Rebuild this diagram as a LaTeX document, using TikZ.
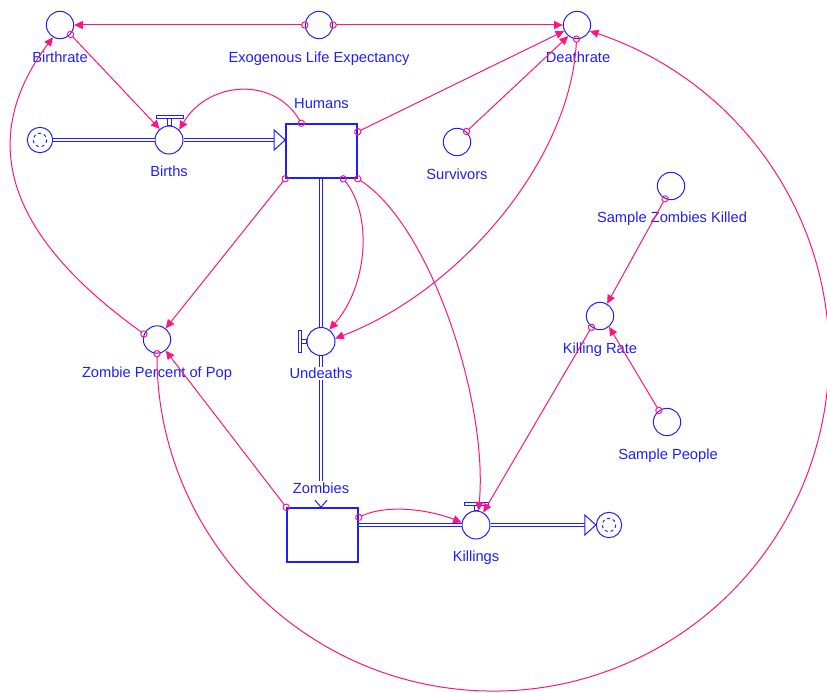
\documentclass[tikz,border=0pt]{standalone}
\usepackage{fontspec}
\setmainfont{Liberation Sans}
\usetikzlibrary{arrows.meta,calc}

\definecolor{simblue}{RGB}{30,30,255}
\definecolor{simpink}{RGB}{255,20,130}

\tikzset{every picture/.style={line width=0.75pt}}
\tikzset{
  auxvar/.style={circle, draw=simblue, minimum size=20.5pt, inner sep=0pt},
  valve/.style={circle, draw=simblue, minimum size=21pt, inner sep=0pt},
  stock/.style={rectangle, draw=simblue, line width=1.2pt, minimum width=53.25pt, minimum height=40.5pt, inner sep=0pt},
  cloud/.style={circle, draw=simblue, minimum size=19pt, inner sep=0pt},
  lbl/.style={text=simblue, font=\fontsize{11}{13}\selectfont, inner sep=0.75pt, text height=7.9pt, text depth=0pt},
  pipe/.style={draw=simblue, double=white, double distance=1.8pt},
  pipetip/.style={draw=simblue, fill=white, line join=miter},
  link/.style={draw=simpink, {Circle[open,length=5.5pt,width=5.5pt]}-{Triangle[length=6.5pt,width=6pt]}, shorten <=-2.75pt},
}

\begin{document}
\begin{tikzpicture}[x=0.75pt,y=0.75pt,yscale=-1,xscale=1]
\useasboundingbox (0,0) rectangle (827,692);

%Auxiliaries
\node[auxvar] (br) at (60,25) {};
\node[auxvar] (ele) at (319,25) {};
\node[auxvar] (dr) at (577,25) {};
\node[auxvar] (surv) at (457,142) {};
\node[auxvar] (szk) at (671,186) {};
\node[auxvar] (kr) at (600,316) {};
\node[auxvar] (sp) at (667,422) {};
\node[auxvar] (zpp) at (157,339.5) {};

%Stocks
\node[stock] (humans) at (321.5,151) {};
\node[stock] (zombies) at (322.5,535) {};

%Valves and clouds
\node[valve] (births) at (169,140) {};
\node[valve] (undeaths) at (321,341.5) {};
\node[valve] (killings) at (476,525) {};
\node[cloud] (srcL) at (40,140) {};
\node[cloud] (sinkR) at (609,525) {};
\draw[simblue, dash pattern=on 2.2pt off 2.2pt] (srcL) circle[radius=5pt];
\draw[simblue, dash pattern=on 2.2pt off 2.2pt] (sinkR) circle[radius=5pt];

%Valve bars
\draw[simblue] ($(births.north)+(-13,-10)$) rectangle ($(births.north)+(14,-7)$);
\draw[simblue] ($(births.north)+(-2,-7)$) rectangle ($(births.north)+(2,0)$);
\draw[simblue] ($(undeaths.west)+(-8,-11)$) rectangle ($(undeaths.west)+(-5,11)$);
\draw[simblue] ($(undeaths.west)+(-5,-2)$) rectangle ($(undeaths.west)+(0,2)$);
\draw[simblue] ($(killings.north)+(-12,-8)$) rectangle ($(killings.north)+(12,-5)$);
\draw[simblue] ($(killings.north)+(-2,-5)$) rectangle ($(killings.north)+(2,0)$);

% Text Node
\node[lbl] (brL) at (60,57) {Birthrate};
\node[lbl] (eleL) at (319,57) {Exogenous Life Expectancy};
\node[lbl] (drL) at (578,57) {Deathrate};
\node[lbl] (birthsL) at (169,171) {Births};
\node[lbl] (humansL) at (321.5,103) {Humans};
\node[lbl] (survL) at (457,174) {Survivors};
\node[lbl] (szkL) at (672,217) {Sample Zombies Killed};
\node[lbl] (krL) at (600,348) {Killing Rate};
\node[lbl] (spL) at (668,454) {Sample People};
\node[lbl] (zppL) at (157,372) {Zombie Percent of Pop};
\node[lbl] (undL) at (321,373.5) {Undeaths};
\node[lbl] (zomL) at (321,488) {Zombies};
\node[lbl] (kilL) at (476,556) {Killings};

%Pipes
\draw[pipe] (srcL.east) -- (births.west);
\draw[pipe] (births.east) -- ($(births -| humans.west)+(-11,0)$);
\draw[pipetip] (births -| humans.west) -- ++(-11,-10) -- ++(0,20) -- cycle;
\draw[pipe] (humans.south -| undeaths) -- (undeaths.north);
\draw[pipe] (undeaths.south) -- (undL.north);
\draw[pipe] (undL.south) -- (zomL.north);
\draw[simblue] ($(undeaths |- zombies.north)+(-6,-7)$) -- (undeaths |- zombies.north) -- ++(6,-7);
\draw[pipe] (zombies.east |- killings) -- (killings.west);
\draw[pipe] (killings.east) -- ($(sinkR.west)+(-11,0)$);
\draw[pipetip] (sinkR.west) -- ++(-11,-10) -- ++(0,20) -- cycle;

%Links
\draw[link] (ele.180) -- (br.0);
\draw[link] (ele.0) -- (dr.180);
\draw[link] (br.-42) -- (births.130);
\draw[link] (humans.126) .. controls +(-28,-48) and +(28,-48) .. (births.45);
\draw[link] (humans.28) -- (dr.205);
\draw[link] (surv.48) -- (dr.232);
\draw[link] (dr.268) .. controls +(-6,121) and +(125,-48) .. (undeaths.12);
\draw[link] (humans.south west) -- (zpp.52);
\draw[link] (zombies.north west) -- (zpp.-52);
\draw[link] (zpp.157) .. controls +(-97,-70) and +(-96,128) .. (br.240);
\draw[link] (zpp.270) .. controls +(0,172) and (286.8,671.2) .. (457.9,689.2) .. controls (629,707.2) and (785.9,593.1) .. (821.7,424.9) .. controls (857.5,256.7) and (760.4,88.5) .. (dr.-25);
\draw[link] (humans.-52) .. controls +(30,37) and +(38,-43) .. (undeaths.55);
\draw[link] (humans.south east) .. controls +(73,47) and +(10,-108) .. (killings.80);
\draw[link] (kr.233) -- (killings.60);
\draw[link] (szk.245) -- (kr.60);
\draw[link] (sp.125) -- (kr.-50);
\draw[link] (zombies.26) .. controls +(30,-14) and +(-30,-12) .. (killings.170);

\end{tikzpicture}
\end{document}
